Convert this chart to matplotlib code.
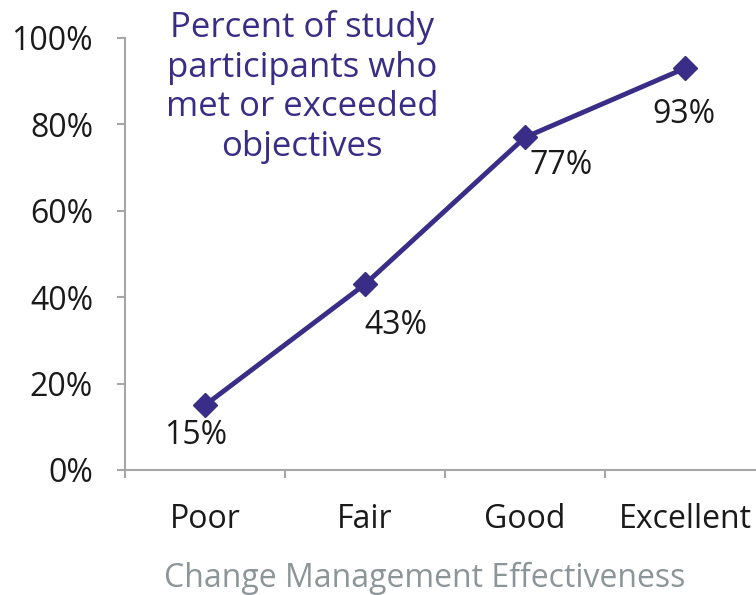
import matplotlib.pyplot as plt

plt.rcParams['font.family'] = ['Open Sans', 'DejaVu Sans']

# Data
categories = ['Poor', 'Fair', 'Good', 'Excellent']
values = [15, 43, 77, 93]
labels = ['15%', '43%', '77%', '93%']
# label offsets in points (dx, dy) relative to each point
label_offsets = [(-7, -22), (22, -30), (26, -20), (-1, -33)]

purple = '#3a2d87'
axis_gray = '#a6a6a6'

fig = plt.figure(figsize=(7.56, 5.95), dpi=100)
ax = fig.add_axes([125 / 756, 125 / 595, 640 / 756, 432 / 595])

x = list(range(len(categories)))
ax.plot(x, values, color=purple, linewidth=3.5, marker='D', markersize=12,
        markerfacecolor=purple, markeredgecolor=purple, clip_on=False)

for xi, v, lab, off in zip(x, values, labels, label_offsets):
    ax.annotate(lab, (xi, v), xytext=off, textcoords='offset points',
                ha='center', va='center', fontsize=23, color='#1a1a1a')

ax.set_xlim(-0.5, 3.5)
ax.set_ylim(0, 100)
ax.set_yticks([0, 20, 40, 60, 80, 100])
ax.set_yticklabels(['0%', '20%', '40%', '60%', '80%', '100%'])

# category ticks at bin edges, labels in the middle
ax.set_xticks([-0.5, 0.5, 1.5, 2.5])
ax.set_xticklabels([])
ax.set_xticks(x, minor=True)
ax.set_xticklabels(categories, minor=True)
ax.tick_params(axis='x', which='minor', length=0, pad=24, labelsize=23,
               labelcolor='#1a1a1a')
ax.tick_params(axis='x', which='major', direction='out', length=6,
               color=axis_gray, width=1.5)
ax.tick_params(axis='y', direction='out', length=6, color=axis_gray,
               width=1.5, labelsize=23, pad=17, labelcolor='#1a1a1a')

for side in ['top', 'right']:
    ax.spines[side].set_visible(False)
for side in ['left', 'bottom']:
    ax.spines[side].set_color(axis_gray)
    ax.spines[side].set_linewidth(1.5)

fig.text(425 / 756, 1 - 578 / 595, 'Change Management Effectiveness',
         ha='center', va='center', fontsize=23, color='#8c9598')

fig.text(302 / 756, 1 - 87 / 595,
         'Percent of study\nparticipants who\nmet or exceeded\nobjectives',
         ha='center', va='center', fontsize=25, color=purple,
         linespacing=1.22)

fig.savefig('out.png', dpi=100)
